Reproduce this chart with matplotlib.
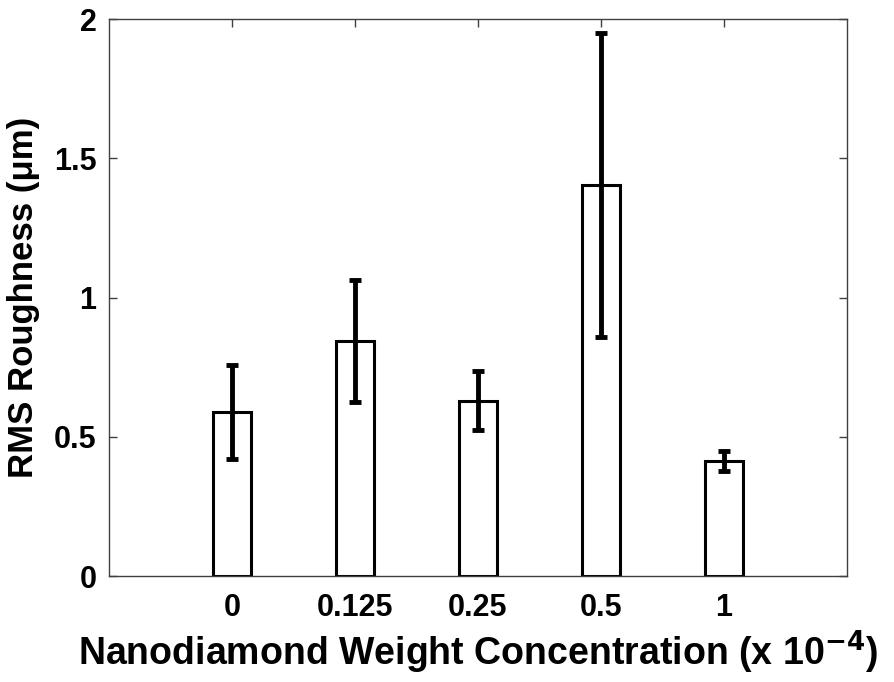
import matplotlib
matplotlib.use("Agg")
import matplotlib.pyplot as plt

# RMS roughness vs nanodiamond concentration
categories = ['0', '0.125', '0.25', '0.5', '1']
rms_mean = [0.59, 0.845, 0.63, 1.405, 0.413]
rms_err = [0.168, 0.218, 0.106, 0.545, 0.036]

plt.rcParams['font.family'] = ['Liberation Sans', 'DejaVu Sans']
plt.rcParams['font.weight'] = 'bold'

fig = plt.figure(figsize=(8.94, 6.82), dpi=100)
ax = fig.add_axes([0.122, 0.155, 0.825, 0.817])

x = list(range(1, len(categories) + 1))
ax.bar(x, rms_mean, width=0.31, facecolor='white', edgecolor='black', linewidth=2.2, zorder=2)
ax.errorbar(x, rms_mean, yerr=rms_err, fmt='none', ecolor='black',
            elinewidth=3.5, capsize=4.5, capthick=3.5, zorder=3)

ax.set_xlim(0, 6)
ax.set_ylim(0, 2)
ax.set_xticks(x)
ax.set_xticklabels(categories)
ax.set_yticks([0, 0.5, 1, 1.5, 2])
ax.set_yticklabels(['0', '0.5', '1', '1.5', '2'])

for s in ax.spines.values():
    s.set_color('#404040')
    s.set_linewidth(1.0)
ax.tick_params(direction='in', length=6, width=1, color='#404040',
               top=True, right=True, labelsize=22)
ax.tick_params(axis='x', pad=12)
ax.tick_params(axis='y', pad=9)

ax.set_xlabel('Nanodiamond Weight Concentration (x 10$^{\\mathbf{-4}}$)', fontsize=27, fontweight='bold', labelpad=4)
ax.set_ylabel('RMS Roughness (\u03bcm)', fontsize=25, fontweight='bold', labelpad=10)

fig.savefig('out.png', dpi=100)
